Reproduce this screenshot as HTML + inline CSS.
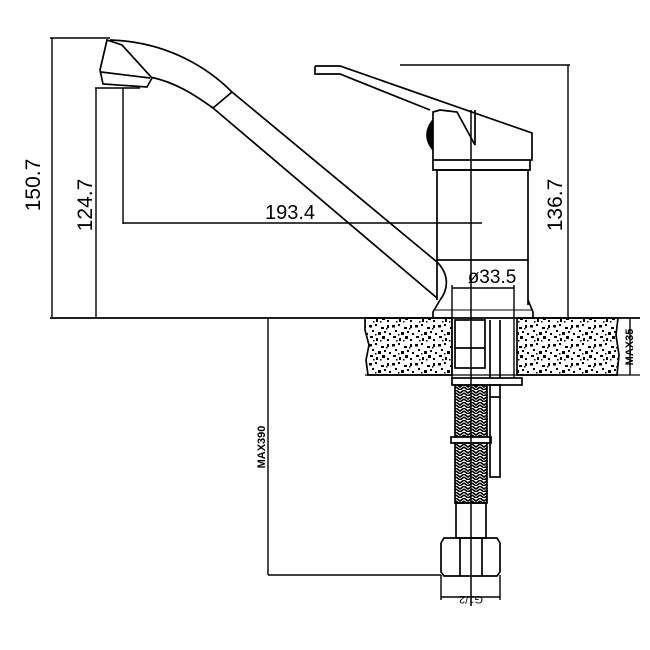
<!DOCTYPE html>
<html><head><meta charset="utf-8"><style>html,body{margin:0;padding:0;background:#fff}svg{display:block}</style></head>
<body>
<svg width="650" height="650" viewBox="0 0 650 650" xmlns="http://www.w3.org/2000/svg">
<defs>
<pattern id="st" width="23" height="19" patternUnits="userSpaceOnUse">
<rect width="23" height="19" fill="#fff"/>
<g fill="#000">
<rect x="1" y="2" width="3" height="2.5"/><rect x="7" y="1" width="2" height="2"/><rect x="13" y="4" width="3" height="2"/><rect x="19" y="2" width="2" height="3"/>
<rect x="4" y="7" width="2" height="2"/><rect x="10" y="9" width="3" height="3"/><rect x="16" y="8" width="2" height="2"/><rect x="21" y="10" width="2" height="2"/>
<rect x="2" y="13" width="3" height="2"/><rect x="8" y="15" width="2" height="3"/><rect x="14" y="13" width="3" height="3"/><rect x="19" y="16" width="2" height="2"/>
<rect x="5" y="17" width="1.5" height="1.5"/><rect x="12" y="17" width="1.5" height="1.5"/><rect x="18" y="5" width="1.5" height="1.5"/><rect x="7" y="11" width="1.5" height="1.5"/>
</g></pattern>
<pattern id="br" width="8" height="6" patternUnits="userSpaceOnUse">
<rect width="8" height="6" fill="#fff"/><path d="M0 0 L4 3 L8 0 M0 3 L4 6 L8 3" stroke="#000" stroke-width="1.6" fill="none"/></pattern>
</defs>
<g stroke="#000" stroke-width="1.7" fill="none">
<!-- stone -->
<path d="M365 318 L452 318 L452 375 L368 375 L366 360 L369 345 L365 330 Z" fill="url(#st)"/>
<path d="M517 318 L618 318 L616 335 L619 355 L617 375 L517 375 Z" fill="url(#st)"/>
<line x1="50" y1="318" x2="640" y2="318"/>
<line x1="365" y1="375" x2="640" y2="375" stroke-width="1.2"/>
<!-- dims -->
<g stroke-width="1.4">
<line x1="50" y1="38" x2="110" y2="38"/>
<line x1="52" y1="38" x2="52" y2="318"/>
<line x1="95" y1="88" x2="140" y2="88"/>
<line x1="96" y1="88" x2="96" y2="318"/>
<line x1="123" y1="88" x2="123" y2="224"/>
<line x1="123" y1="223" x2="482" y2="223"/>
<line x1="400" y1="65" x2="570" y2="65"/>
<line x1="568" y1="65" x2="568" y2="318"/>
<line x1="630" y1="318" x2="630" y2="375"/>
<line x1="268" y1="318" x2="268" y2="575"/>
<line x1="268" y1="575" x2="441" y2="575"/>
<line x1="452" y1="288" x2="514" y2="288"/>
<line x1="452" y1="285" x2="452" y2="378"/>
<line x1="514" y1="285" x2="514" y2="378"/>
<line x1="441" y1="575" x2="441" y2="600"/>
<line x1="500" y1="575" x2="500" y2="600"/>
<line x1="441" y1="597" x2="500" y2="597"/>
</g>
<!-- spout -->
<path d="M110 40 C170 42 210 70 232 92 L437 262 C450 275 448 290 440 300"/>
<path d="M150 77 C175 82 195 95 213 108 L437 298"/>
<line x1="213" y1="108" x2="232" y2="92"/>
<path d="M107 40 L100 70 L103 84 L147 87 L152 78 L122 45 Z" fill="#fff"/>
<line x1="101" y1="72" x2="150" y2="78"/>
<!-- body -->
<rect x="437" y="170" width="91" height="90"/>
<line x1="437" y1="260" x2="437" y2="300"/>
<line x1="528" y1="260" x2="528" y2="305"/>
<path d="M440 300 L433 312 L433 318 M528 300 L533 312 L533 318"/>
<line x1="433" y1="310" x2="533" y2="310" stroke-width="1"/>
<path d="M433 160 L433 170 L530 170 L530 160"/>
<path d="M315 66 L340 66 L532 133 L532 160 L433 160 L433 112 L440 110 L457 112 L475 145 L475 110"/>
<path d="M315 66 L315 74 L340 74 L430 110"/>
<path d="M433 120 C425 130 425 140 433 150" fill="#000"/>
<!-- pipes -->
<rect x="455" y="320" width="30" height="48"/>
<line x1="455" y1="348" x2="485" y2="348"/>
<line x1="490" y1="320" x2="490" y2="378"/><line x1="500" y1="320" x2="500" y2="378"/>
<rect x="452" y="378" width="70" height="7" fill="#fff"/>
<rect x="455" y="385" width="32" height="52" fill="url(#br)"/>
<rect x="451" y="437" width="40" height="6" fill="#fff"/>
<rect x="455" y="443" width="32" height="60" fill="url(#br)"/>
<rect x="490" y="385" width="10" height="92"/>
<line x1="490" y1="397" x2="500" y2="397"/>
<rect x="456" y="503" width="30" height="35"/>
<path d="M444 538 L497 538 L500 543 L500 572 L497 576 L444 576 L441 572 L441 543 Z"/>
<line x1="460" y1="538" x2="460" y2="576"/><line x1="482" y1="538" x2="482" y2="576"/>
<line x1="471" y1="110" x2="471" y2="606" stroke-width="1.5"/>
</g>
<g font-family="Liberation Sans, sans-serif" fill="#000">
<text x="40" y="185" font-size="21" transform="rotate(-90 40 185)" text-anchor="middle">150.7</text>
<text x="92" y="205" font-size="21" transform="rotate(-90 92 205)" text-anchor="middle">124.7</text>
<text x="290" y="219" font-size="20" text-anchor="middle">193.4</text>
<text x="562" y="205" font-size="21" transform="rotate(-90 562 205)" text-anchor="middle">136.7</text>
<text x="492" y="283" font-size="19" text-anchor="middle">ø33.5</text>
<text x="633" y="347" font-size="11" font-weight="bold" transform="rotate(-90 633 347)" text-anchor="middle">MAX35</text>
<text x="265" y="447" font-size="11" font-weight="bold" transform="rotate(-90 265 447)" text-anchor="middle">MAX390</text>
<text x="471" y="596" font-size="11" transform="rotate(180 471 596)" text-anchor="middle">G1/2</text>
</g>
</svg>
</body></html>
